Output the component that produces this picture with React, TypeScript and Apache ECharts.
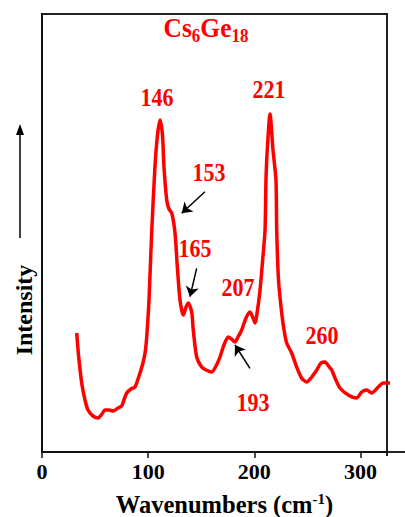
import React, { useEffect, useRef } from "react";
import * as echarts from "echarts";

// Raman spectrum of Cs6Ge18
const wavenumbers = [
  32.7, 34.4, 37.4, 40.5, 43.3, 48.0, 53.0, 56.5, 59.3, 63.1, 66.9, 71.6, 75.1, 77.2, 79.8,
  83.8, 87.6, 91.4, 95.1, 97.5, 98.9, 100.8, 103.3, 106.4, 108.8, 111.2, 113.5, 114.9, 117.5,
  119.6, 122.2, 125.3, 127.5, 130.0, 133.1, 135.7, 137.8, 141.0, 142.5, 145.7, 150.4, 154.5,
  159.9, 163.9, 167.7, 171.4, 175.5, 178.5, 181.8, 184.6, 188.1, 192.2, 195.9, 198.8, 200.7,
  203.0, 205.4, 207.7, 210.1, 211.0, 212.2, 214.8, 217.6, 220.4, 221.1, 222.8, 225.8, 228.0,
  230.5, 235.2, 239.9, 244.5, 249.4, 253.4, 258.8, 262.8, 266.6, 269.9, 272.9, 276.0, 280.7,
  288.5, 296.5, 301.2, 305.9, 310.6, 316.8, 321.5, 327.8,
];
const intensity = [
  119, 97, 69, 52, 42, 36, 34, 38, 42, 42, 41, 44, 46, 52, 59,
  63, 65, 76, 89, 102, 119, 152, 219, 285, 317, 332, 317, 285, 252,
  243, 239, 219, 185, 152, 137, 145, 149, 140, 122, 95, 85, 82,
  80, 86, 95, 107, 115, 113, 110, 115, 122, 134, 140, 134, 129,
  142, 162, 190, 222, 272, 302, 338, 302, 272, 222, 172, 139, 122,
  109, 99, 85, 74, 70, 74, 82, 89, 90, 86, 82, 74, 64,
  57, 54, 60, 62, 59, 65, 69, 69,
];

const peakLabels = ["146", "221", "153", "165", "207", "193", "260"];
// arrows: [from, to] in axis units
const arrowFrom = [
  [153.5, 260.3],
  [145.7, 183.7],
  [195.9, 83.7],
];
const arrowTo = [
  [131.6, 238.7],
  [139.4, 155.3],
  [181.8, 107.0],
];
const titleParts = ["Cs", "6", "Ge", "18"];
const xAxisTitle = ["Wavenumbers (cm", "-1", ")"];
const yAxisTitle = "Intensity";

// layout (pixel centres of the peak labels)
const peakLabelPos = [
  [157, 97],
  [269, 89],
  [209, 172],
  [195, 248],
  [238, 287],
  [253, 402],
  [322, 335],
];

const FONT = "'Liberation Serif', 'Times New Roman', serif";

export default function App() {
  const ref = useRef<HTMLDivElement>(null);
  useEffect(() => {
    if (!ref.current) return;
    const chart = echarts.init(ref.current, undefined, { renderer: "svg" });
    const labelStyle = {
      fontFamily: FONT,
      fontWeight: "bold",
      fontSize: 22,
      fill: "#ff0000",
      align: "center",
      verticalAlign: "middle",
    };
    chart.setOption({
      animation: false,
      backgroundColor: "#ffffff",
      grid: { left: 42, right: 18, top: 14, bottom: 65, outerBoundsMode: "none" },
      xAxis: {
        type: "value",
        min: 0,
        max: 325,
        interval: 100,
        axisLine: { show: true, onZero: false, lineStyle: { color: "#111", width: 2 } },
        axisTick: { show: true, length: 6, lineStyle: { color: "#111", width: 1.5 } },
        axisLabel: {
          color: "#000",
          fontFamily: FONT,
          fontWeight: "bold",
          fontSize: 22,
          margin: 8,
          showMaxLabel: false,
        },
        splitLine: { show: false },
        name: `{a|${xAxisTitle[0]}}{s|${xAxisTitle[1]}}{a|${xAxisTitle[2]}}`,
        nameLocation: "middle",
        nameGap: 39,
        nameTextStyle: {
          padding: [0, 0, 0, 20],
          rich: {
            a: { fontFamily: FONT, fontWeight: "bold", fontSize: 24.5, color: "#000", lineHeight: 27 },
            s: {
              fontFamily: FONT,
              fontWeight: "bold",
              fontSize: 15,
              color: "#000",
              lineHeight: 15,
              verticalAlign: "top",
            },
          },
        },
      },
      yAxis: {
        type: "value",
        min: 0,
        max: 438,
        axisLine: { show: true, onZero: false, lineStyle: { color: "#111", width: 2 } },
        axisTick: { show: false },
        axisLabel: { show: false },
        splitLine: { show: false },
      },
      series: [
        {
          type: "line",
          data: wavenumbers.map((x, i) => [x, intensity[i]]),
          symbol: "none",
          showSymbol: false,
          smooth: 0.25,
          clip: false,
          lineStyle: { color: "#ff0000", width: 3.5 },
          markLine: {
            silent: true,
            animation: false,
            symbol: ["none", "arrow"],
            symbolSize: 10,
            label: { show: false },
            lineStyle: { color: "#000", width: 1.5, type: "solid" },
            emphasis: { disabled: true },
            data: arrowFrom.map((f, i) => [{ coord: f }, { coord: arrowTo[i] }]),
          },
        },
      ],
      graphic: [
        { type: "line", shape: { x1: 41, y1: 14, x2: 388, y2: 14 }, style: { stroke: "#222", lineWidth: 2 } },
        { type: "line", shape: { x1: 387, y1: 14, x2: 387, y2: 456 }, style: { stroke: "#222", lineWidth: 2 } },
        { type: "line", shape: { x1: 387, y1: 452, x2: 405, y2: 452 }, style: { stroke: "#222", lineWidth: 2 } },
        {
          type: "text",
          x: 206,
          y: 28,
          scaleY: 1.08,
          style: {
            text: `{m|${titleParts[0]}}{s|${titleParts[1]}}{m|${titleParts[2]}}{s|${titleParts[3]}}`,
            align: "center",
            verticalAlign: "middle",
            rich: {
              m: { fontFamily: FONT, fontWeight: "bold", fontSize: 25.5, fill: "#ff0000", lineHeight: 32 },
              s: {
                fontFamily: FONT,
                fontWeight: "bold",
                fontSize: 17,
                fill: "#ff0000",
                lineHeight: 17,
                verticalAlign: "bottom",
              },
            },
          },
        },
        ...peakLabels.map((t, i) => ({
          type: "text",
          x: peakLabelPos[i][0],
          y: peakLabelPos[i][1],
          scaleY: 1.15,
          style: { ...labelStyle, text: t },
        })),
        {
          type: "text",
          x: 24,
          y: 310,
          rotation: Math.PI / 2,
          style: {
            text: yAxisTitle,
            fontFamily: FONT,
            fontWeight: "bold",
            fontSize: 24,
            fill: "#000",
            align: "center",
            verticalAlign: "middle",
          },
        },
        { type: "line", shape: { x1: 20, y1: 238, x2: 20, y2: 132 }, style: { stroke: "#000", lineWidth: 1.5 } },
        {
          type: "polygon",
          shape: { points: [[16, 135], [24, 135], [20, 124]] },
          style: { fill: "#000" },
        },
      ],
    });
    return () => chart.dispose();
  }, []);
  return (
    <div
      ref={ref}
      style={{ position: "fixed", left: 0, top: 0, width: 405, height: 517, background: "#fff" }}
    />
  );
}
